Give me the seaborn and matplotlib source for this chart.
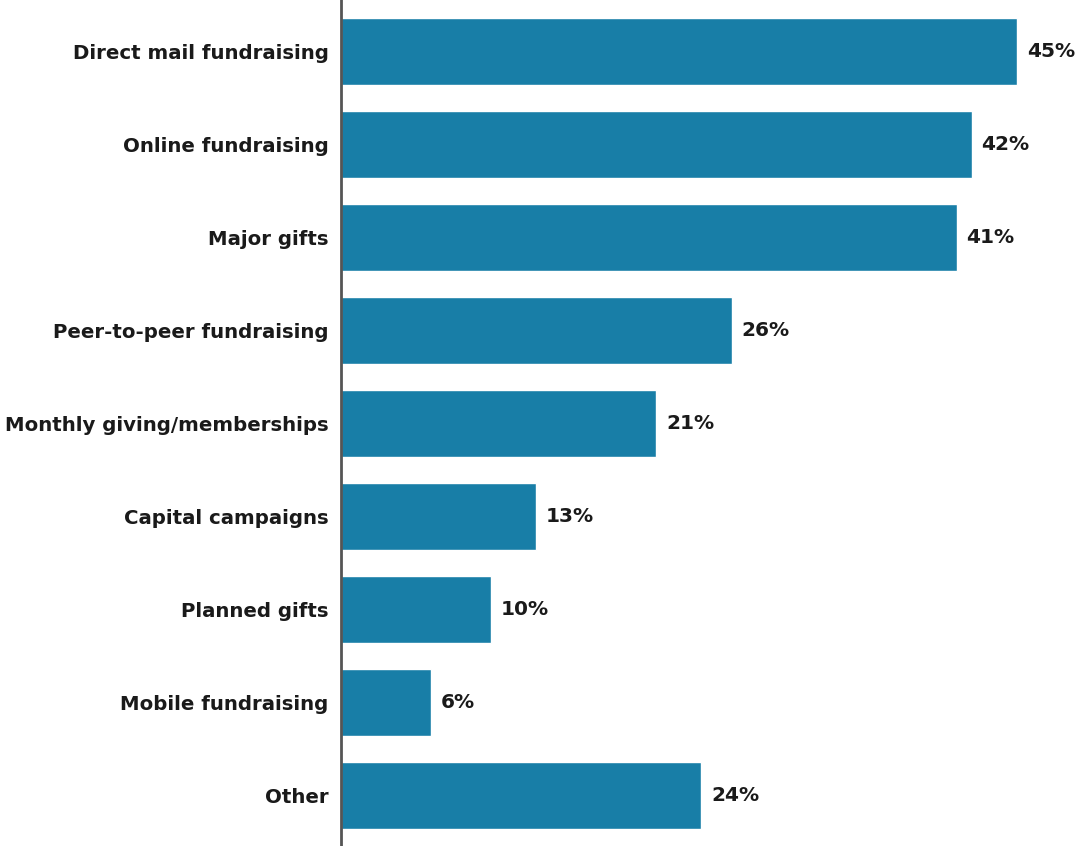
import matplotlib
matplotlib.use("Agg")
import matplotlib.pyplot as plt
import seaborn as sns
import pandas as pd

# data
categories = [
    "Direct mail fundraising",
    "Online fundraising",
    "Major gifts",
    "Peer-to-peer fundraising",
    "Monthly giving/memberships",
    "Capital campaigns",
    "Planned gifts",
    "Mobile fundraising",
    "Other",
]
percent = [45, 42, 41, 26, 21, 13, 10, 6, 24]

df = pd.DataFrame({"Channel": categories, "Percent": percent})

sns.set_style("white")
plt.rcParams["font.family"] = ["DejaVu Sans"]

fig = plt.figure(figsize=(10.78, 8.46), dpi=100)
ax = fig.add_axes([341 / 1078, 0, 737 / 1078, 1])

sns.barplot(data=df, x="Percent", y="Channel", color="#187ea7",
            saturation=1, width=0.72, ax=ax)

ax.set_xlim(0, 49.07)
ax.set_ylim(8.54, -0.55)

for i, v in enumerate(percent):
    ax.text(v + 0.65, i, f"{v}%", va="center", ha="left",
            fontsize=14.5, fontweight="bold", color="#1a1a1a")

ax.set_xlabel("")
ax.set_ylabel("")
ax.set_xticks([])
ax.tick_params(axis="y", length=0, pad=9)
for lab in ax.get_yticklabels():
    lab.set_fontsize(14.2)
    lab.set_fontweight("bold")
    lab.set_color("#1a1a1a")

for s in ["top", "right", "bottom"]:
    ax.spines[s].set_visible(False)
ax.spines["left"].set_color("#555555")
ax.spines["left"].set_linewidth(2)

fig.savefig("out.png", dpi=100)
